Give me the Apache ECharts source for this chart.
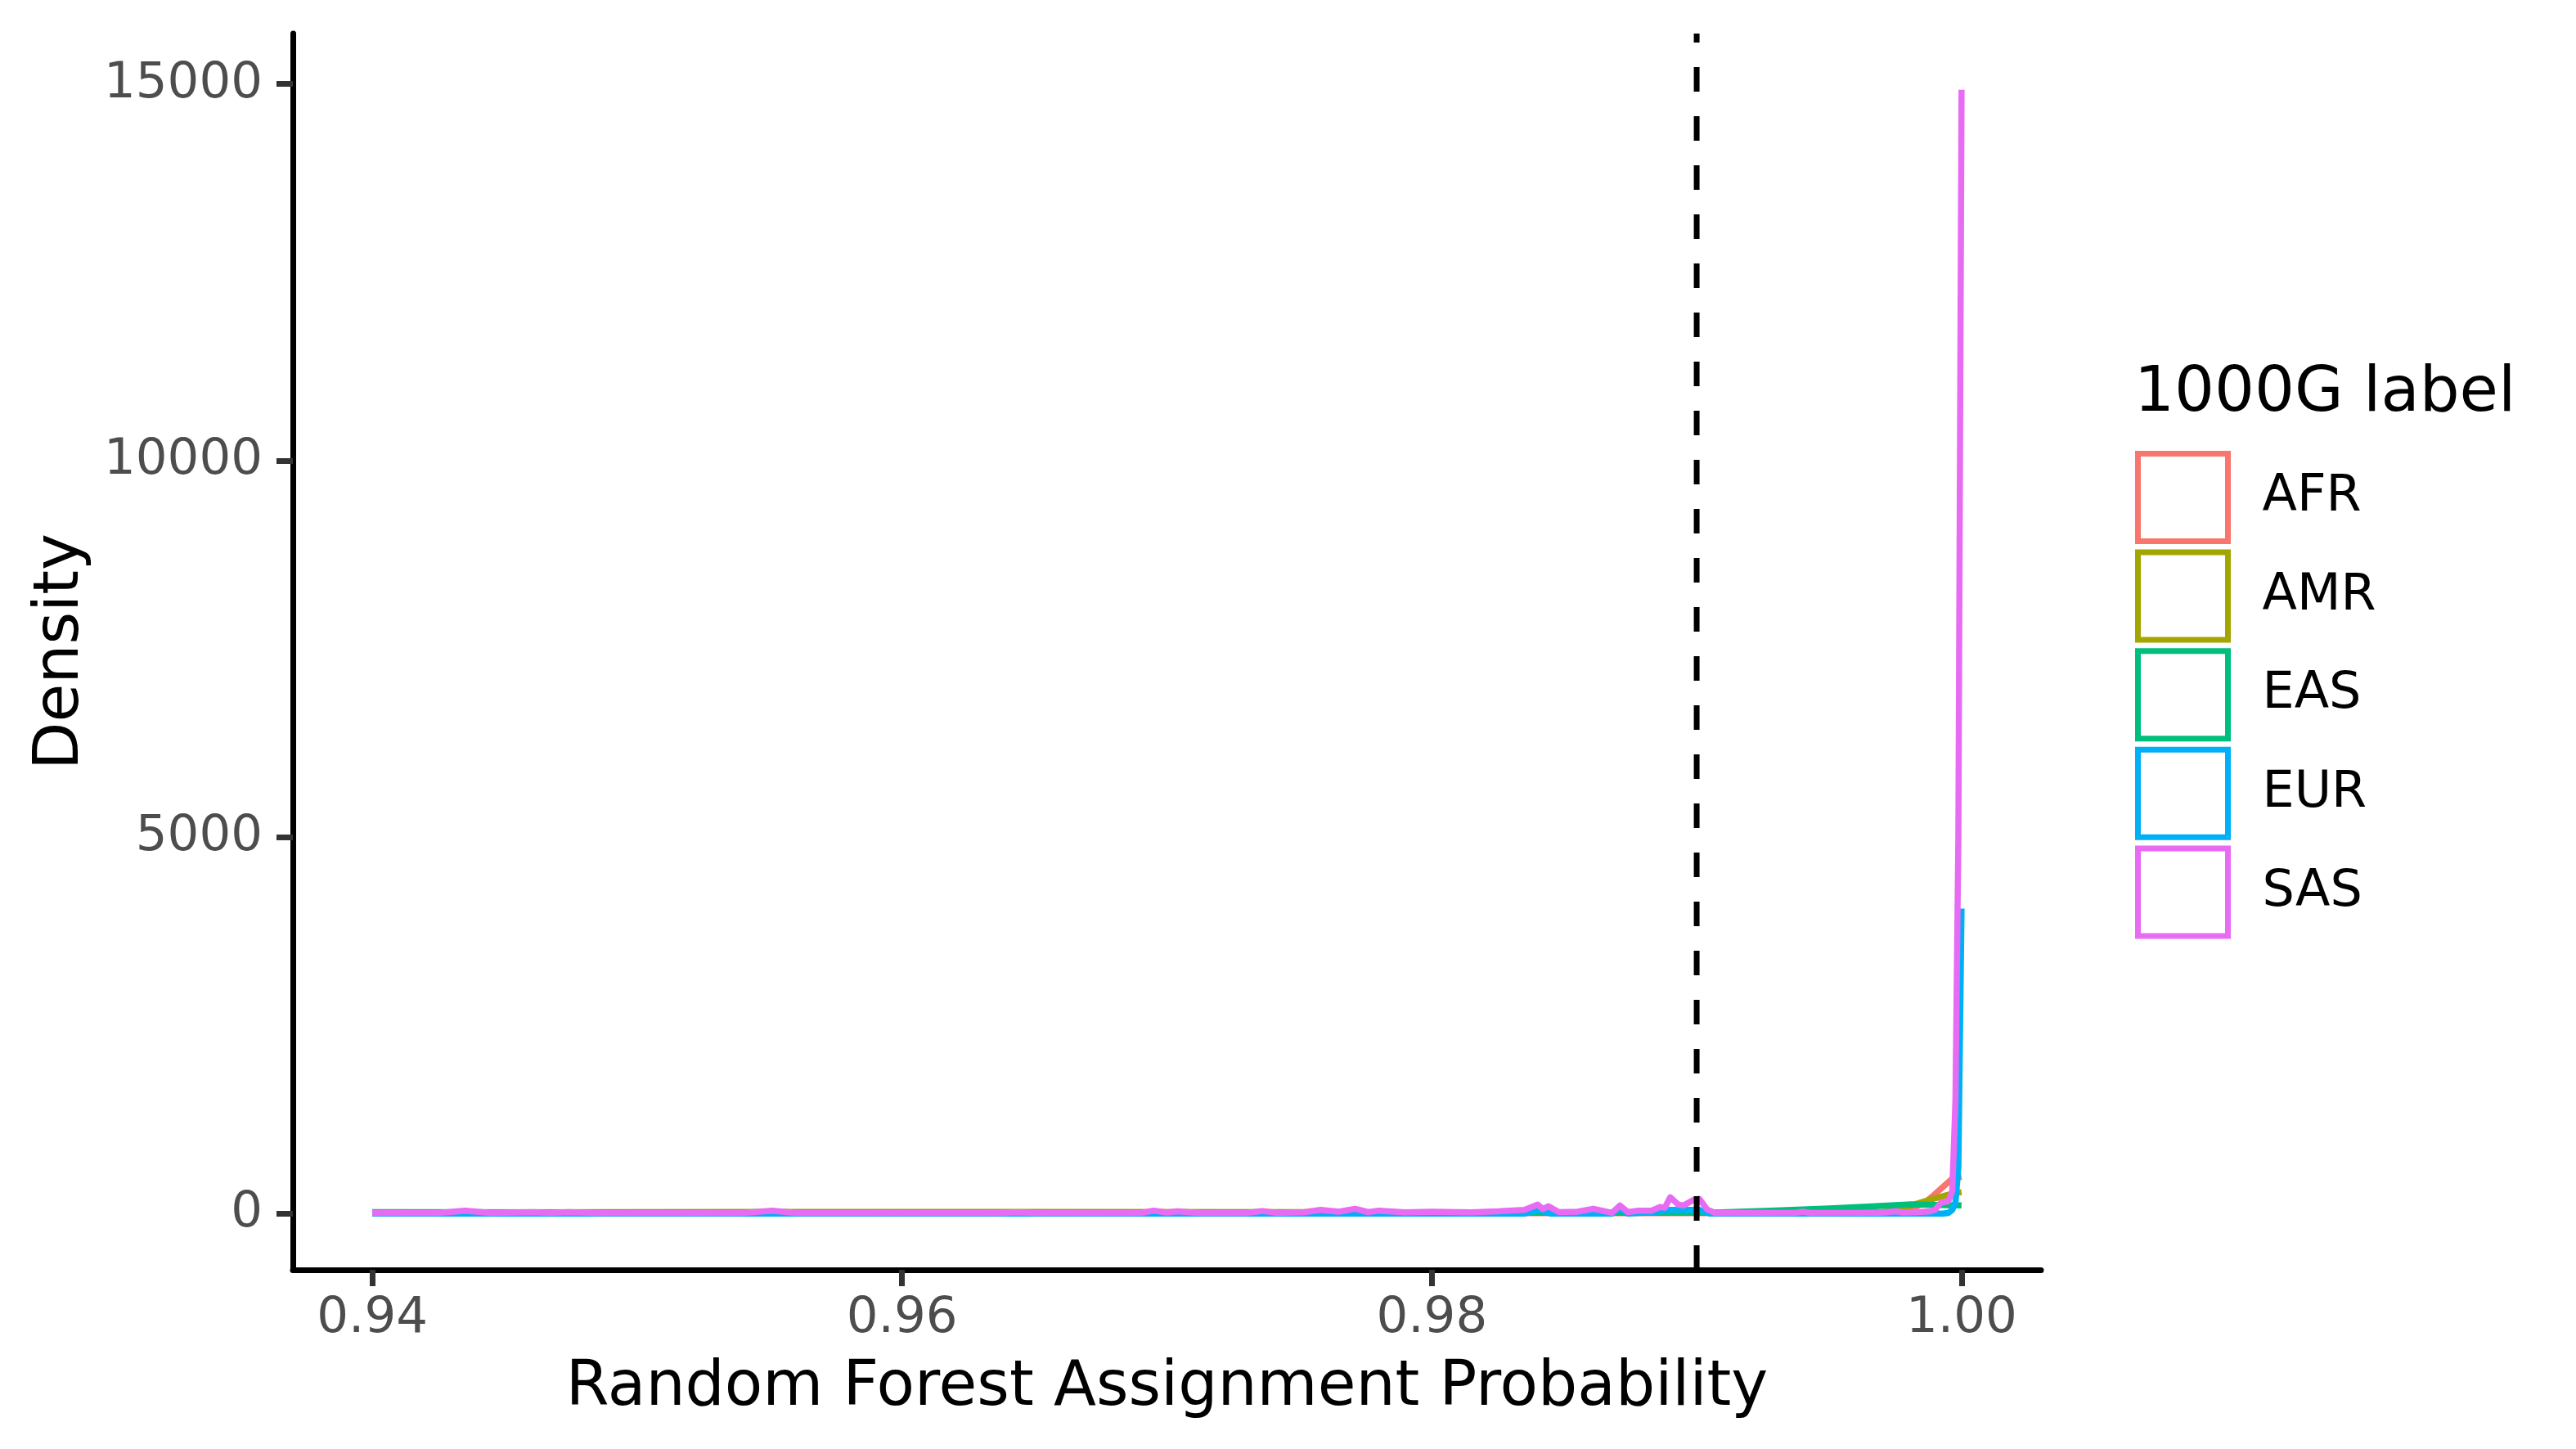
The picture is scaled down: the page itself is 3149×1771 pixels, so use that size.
<!DOCTYPE html>
<html>
<head>
<meta charset="utf-8">
<script src="https://cdn.jsdelivr.net/npm/echarts@6/dist/echarts.min.js"></script>
<style>
html,body{margin:0;padding:0;background:#fff;}
#chart{width:3149px;height:1771px;}
</style>
</head>
<body>
<div id="chart"></div>
<script>
// ---- data (x = probability, y = density) ----
const seriesNames = ['AFR', 'AMR', 'EAS', 'EUR', 'SAS'];
const seriesColors = ['#F8766D', '#A3A500', '#00BF7D', '#00B0F6', '#E76BF3'];

const afr = [[0.9400, 5], [0.9600, 5], [0.9800, 5], [0.9900, 5], [0.9970, 8], [0.9975, 20], [0.9982, 80],
  [0.9986, 140], [0.9989, 230], [0.9992, 325], [0.99966, 467], [1.0000, 490]];

const amr = [[0.9400, 15], [0.9550, 22], [0.9650, 22], [0.9750, 20], [0.9800, 15], [0.9880, 20], [0.9885, 50],
  [0.9900, 50], [0.9905, 12], [0.9970, 20], [0.9978, 60], [0.9982, 120], [0.9988, 185], [0.9994, 240],
  [0.9997, 270], [1.0000, 285]];

const eas = [[0.9400, 20], [0.9550, 15], [0.9700, 12], [0.9850, 12], [0.9905, 12], [0.9930, 42], [0.9950, 70],
  [0.9966, 97], [0.9981, 122], [0.9990, 116], [1.0000, 109]];

const eur = [[0.9400, 0], [0.9835, 0], [0.9840, 50], [0.9845, 0], [0.9868, 0], [0.9871, 70], [0.9874, 0],
  [0.9884, 20], [0.9889, 50], [0.9901, 50], [0.9905, 0], [0.9993, 0], [0.9995, 10], [0.99965, 50],
  [0.99977, 150], [0.99988, 600], [1.0000, 4050]];

const sas = [[0.9400, 8], [0.9425, 8], [0.9435, 40], [0.9445, 8], [0.9461, 20], [0.9467, 8], [0.9474, 20],
  [0.9485, 8], [0.9540, 8], [0.9551, 40], [0.9560, 8], [0.9638, 8], [0.9643, 18], [0.9650, 8], [0.9690, 8],
  [0.9695, 40], [0.9700, 15], [0.9704, 30], [0.9712, 10], [0.9730, 10], [0.9736, 35], [0.9742, 10],
  [0.9752, 20], [0.9758, 50], [0.9765, 25], [0.9771, 65], [0.9776, 20], [0.9780, 40], [0.9790, 18],
  [0.9800, 25], [0.9815, 18], [0.9825, 30], [0.9835, 50], [0.9840, 120], [0.9842, 60], [0.9844, 98],
  [0.9848, 20], [0.9855, 25], [0.9861, 65], [0.9868, 10], [0.9871, 108], [0.9874, 20], [0.9878, 40],
  [0.9883, 40], [0.9886, 87], [0.9888, 80], [0.9890, 217], [0.9893, 120], [0.9895, 108], [0.9899, 185],
  [0.9901, 196], [0.9904, 54], [0.9907, 10], [0.9937, 10], [0.9940, 25], [0.9943, 10], [0.9970, 12],
  [0.9975, 30], [0.9978, 15], [0.9985, 22], [0.9988, 30], [0.9990, 50], [0.9992, 140], [0.9995, 165],
  [0.99965, 300], [0.99977, 1500], [0.99988, 5000], [1.0000, 14924]];

const cutoff = 0.99;
const xTicks = [0.94, 0.96, 0.98, 1.00];
const yTicks = [0, 5000, 10000, 15000];
const xRange = [0.937, 1.003];
const yRange = [-746, 15670];

const seriesData = [afr, amr, eas, eur, sas];

const FONT = 'DejaVu Sans';
const chart = echarts.init(document.getElementById('chart'), null, {renderer: 'canvas'});

const lineSeries = seriesNames.map((name, i) => ({
  name: name,
  type: 'line',
  data: seriesData[i],
  showSymbol: false,
  symbol: 'none',
  smooth: false,
  color: seriesColors[i],
  lineStyle: {color: seriesColors[i], width: 7.5, cap: 'butt', join: 'round'},
  itemStyle: {color: seriesColors[i]},
  z: 2 + i
}));

lineSeries.push({
  name: 'cutoff',
  type: 'line',
  data: [[cutoff, yRange[0]], [cutoff, yRange[1]]],
  showSymbol: false,
  symbol: 'none',
  lineStyle: {color: '#000', width: 7, type: [30, 30], cap: 'butt'},
  z: 10,
  silent: true
});

const option = {
  animation: false,
  backgroundColor: '#ffffff',
  grid: {left: 358, right: 654, top: 41, bottom: 219, containLabel: false},
  xAxis: {
    type: 'value',
    min: xRange[0],
    max: xRange[1],
    name: 'Random Forest Assignment Probability',
    nameLocation: 'middle',
    nameGap: 107,
    nameTextStyle: {fontFamily: FONT, fontSize: 76, color: '#000'},
    axisLine: {show: true, onZero: false, lineStyle: {color: '#000', width: 7}},
    axisTick: {show: true, customValues: xTicks, length: 20, lineStyle: {color: '#333333', width: 7}},
    axisLabel: {show: true, customValues: xTicks, margin: 30, fontFamily: FONT, fontSize: 61, color: '#4D4D4D',
      formatter: v => Number(v).toFixed(2)},
    splitLine: {show: false}
  },
  yAxis: {
    type: 'value',
    min: yRange[0],
    max: yRange[1],
    name: 'Density',
    nameLocation: 'middle',
    nameRotate: 90,
    nameGap: 245,
    nameTextStyle: {fontFamily: FONT, fontSize: 76, color: '#000'},
    axisLine: {show: true, onZero: false, lineStyle: {color: '#000', width: 7}},
    axisTick: {show: true, customValues: yTicks, length: 20, lineStyle: {color: '#333333', width: 7}},
    axisLabel: {show: true, customValues: yTicks, margin: 37, fontFamily: FONT, fontSize: 61, color: '#4D4D4D',
      formatter: v => String(Math.round(v))},
    splitLine: {show: false}
  },
  legend: {
    orient: 'vertical',
    left: 2610,
    top: 551,
    padding: 0,
    itemWidth: 110,
    itemHeight: 107,
    itemGap: 6.6,
    icon: 'rect',
    selectedMode: false,
    textStyle: {fontFamily: FONT, fontSize: 62, color: '#000', padding: [0, 0, 0, 37]},
    data: seriesNames.map((n, i) => ({
      name: n,
      icon: 'rect',
      itemStyle: {color: '#ffffff', borderColor: seriesColors[i], borderWidth: 7}
    }))
  },
  graphic: [{
    type: 'text',
    x: 2609,
    y: 482,
    style: {
      text: '1000G label',
      fontFamily: FONT,
      fontSize: 77,
      fill: '#000',
      textAlign: 'left',
      textVerticalAlign: 'middle',
      align: 'left',
      verticalAlign: 'middle'
    }
  }],
  series: lineSeries
};

chart.setOption(option);
</script>
</body>
</html>
